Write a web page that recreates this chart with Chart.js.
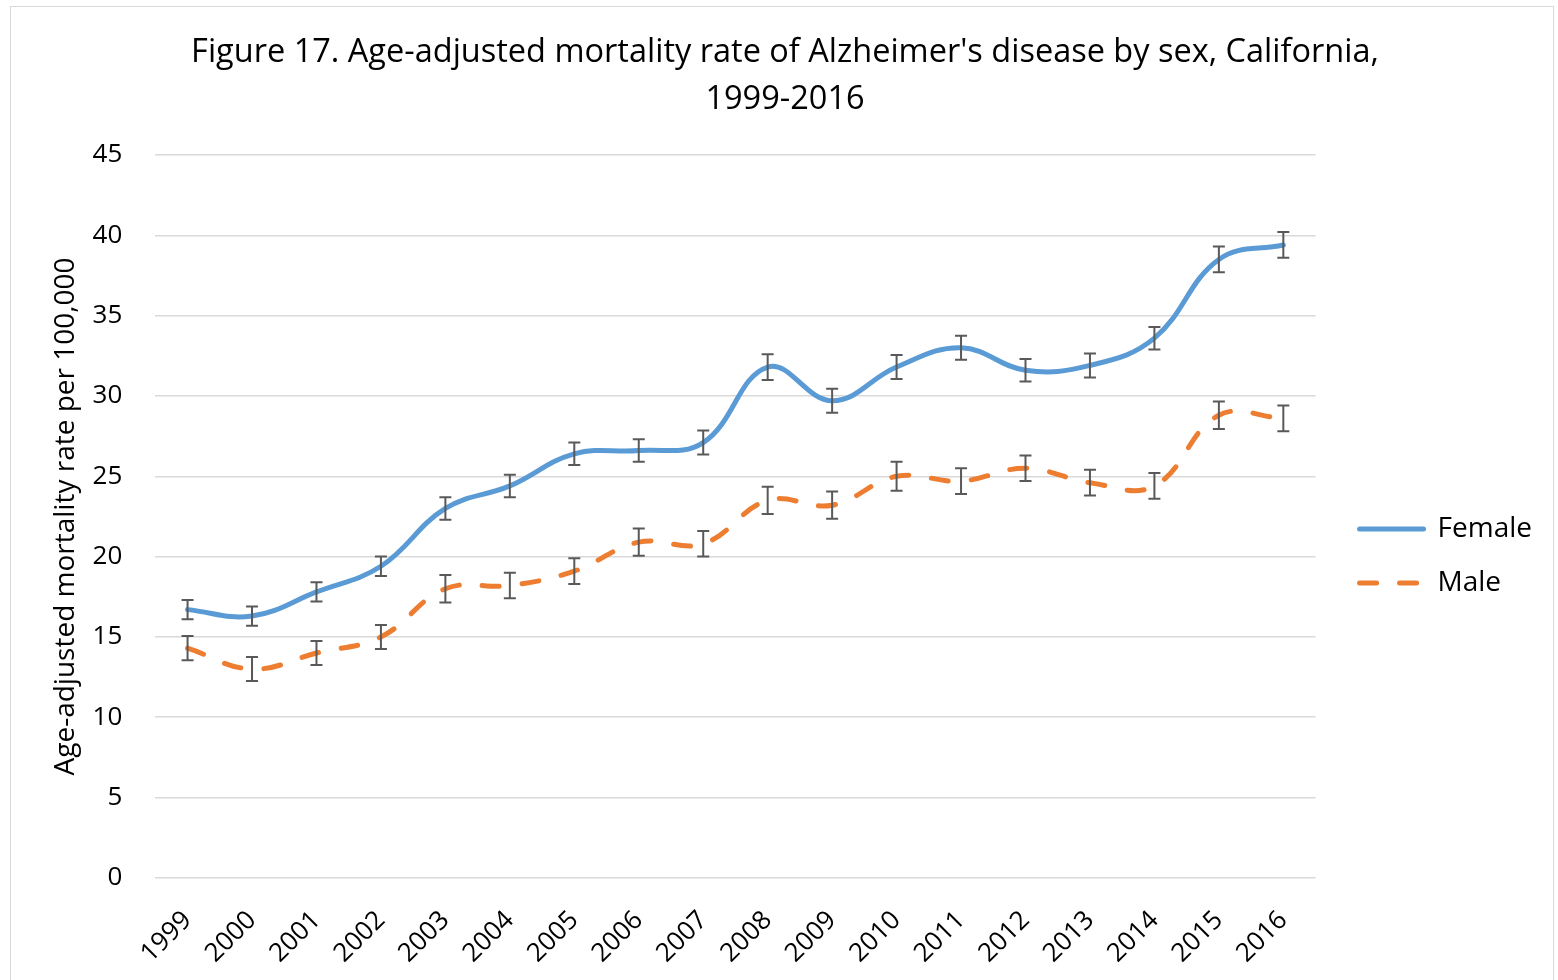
<!DOCTYPE html>
<html>
<head>
<meta charset="utf-8">
<title>Alzheimer's disease mortality by sex</title>
<script src="https://cdn.jsdelivr.net/npm/chart.js@4.4.0/dist/chart.umd.min.js"></script>
<style>
    body { margin: 0; background: #fff; }
    #frame { position: absolute; left: 10px; top: 6px; width: 1542px; height: 1000px; border: 1px solid #d9d9d9; }
    #wrap { position: absolute; left: 0; top: 0; width: 1558px; height: 980px; }
</style>
</head>
<body>
<div id="frame"></div>
<div id="wrap"><canvas id="lineChart"></canvas></div>
<script>
const titleLines = ["Figure 17. Age-adjusted mortality rate of Alzheimer's disease by sex, California,", "1999-2016"];
const yTitle = "Age-adjusted mortality rate per 100,000";
const years = ["1999", "2000", "2001", "2002", "2003", "2004", "2005", "2006", "2007",
    "2008", "2009", "2010", "2011", "2012", "2013", "2014", "2015", "2016"];
const female = [16.7, 16.3, 17.8, 19.4, 23.0, 24.4, 26.4, 26.6, 27.1, 31.8, 29.7, 31.8, 33.0, 31.6, 31.9, 33.6, 38.5, 39.4];
const femaleErr = [0.6, 0.6, 0.6, 0.6, 0.7, 0.7, 0.7, 0.7, 0.75, 0.8, 0.75, 0.75, 0.75, 0.7, 0.75, 0.7, 0.8, 0.8];
const male = [14.3, 13.0, 14.0, 15.0, 18.0, 18.2, 19.1, 20.9, 20.8, 23.5, 23.2, 25.0, 24.7, 25.5, 24.6, 24.4, 28.8, 28.6];
const maleErr = [0.75, 0.75, 0.75, 0.75, 0.85, 0.8, 0.8, 0.85, 0.8, 0.85, 0.85, 0.9, 0.8, 0.8, 0.8, 0.8, 0.85, 0.8];
const yMax = 45;
const yStep = 5;

const fontFamily = "'Open Sans', sans-serif";

// whiskers for the confidence intervals, drawn over the lines
const errorBars = {
    id: 'errorBars',
    afterDatasetsDraw(chart) {
        const ctx = chart.ctx;
        const yScale = chart.scales.y;
        ctx.save();
        ctx.strokeStyle = '#595959';
        ctx.lineWidth = 2;
        chart.data.datasets.forEach((ds, i) => {
            chart.getDatasetMeta(i).data.forEach((pt, j) => {
                const top = yScale.getPixelForValue(ds.data[j] + ds.errors[j]);
                const bottom = yScale.getPixelForValue(ds.data[j] - ds.errors[j]);
                ctx.beginPath();
                ctx.moveTo(pt.x, top);
                ctx.lineTo(pt.x, bottom);
                ctx.moveTo(pt.x - 6, top);
                ctx.lineTo(pt.x + 6, top);
                ctx.moveTo(pt.x - 6, bottom);
                ctx.lineTo(pt.x + 6, bottom);
                ctx.stroke();
            });
        });
        ctx.restore();
    }
};

// nudge the legend away from the plot and down to where Excel put it
const legendShift = {
    id: 'legendShift',
    afterLayout(chart) {
        chart.legend.left += 18;
        chart.legend.right += 18;
        chart.legend.top += 52;
        chart.legend.bottom += 52;
    }
};

new Chart(document.getElementById("lineChart"), {
    type: 'line',
    data: {
        labels: years,
        datasets: [
            {
                label: "Female",
                data: female,
                errors: femaleErr,
                borderColor: "#5b9bd5",
                borderWidth: 5,
                borderCapStyle: 'round',
                tension: 0.4,
                pointRadius: 0,
                fill: false
            },
            {
                label: "Male",
                data: male,
                errors: maleErr,
                borderColor: "#ed7d31",
                borderWidth: 5,
                borderDash: [17, 23],
                borderCapStyle: 'round',
                tension: 0.4,
                pointRadius: 0,
                fill: false
            }
        ]
    },
    options: {
        responsive: true,
        maintainAspectRatio: false,
        animation: false,
        layout: { padding: { left: 46, right: 34, top: 20, bottom: -8 } },
        plugins: {
            title: {
                display: true,
                text: titleLines,
                color: '#000',
                font: { family: fontFamily, size: 32.5, weight: 'normal', lineHeight: 47 / 32.5 },
                padding: { top: 9, bottom: 32 }
            },
            legend: {
                position: 'right',
                labels: {
                    usePointStyle: true,
                    pointStyleWidth: 64,
                    padding: 26,
                    color: '#000',
                    font: { family: fontFamily, size: 28 },
                    generateLabels(chart) {
                        return chart.data.datasets.map((ds, i) => ({
                            text: ds.label,
                            datasetIndex: i,
                            pointStyle: 'line',
                            strokeStyle: ds.borderColor,
                            fillStyle: ds.borderColor,
                            lineWidth: 5,
                            lineCap: 'round',
                            lineDash: ds.borderDash || [],
                            fontColor: '#000'
                        }));
                    }
                }
            },
            tooltip: { enabled: false }
        },
        scales: {
            x: {
                offset: true,
                grid: { display: false },
                border: { display: false },
                ticks: {
                    autoSkip: false,
                    minRotation: 45,
                    maxRotation: 45,
                    padding: 19,
                    color: '#000',
                    font: { family: fontFamily, size: 26 }
                }
            },
            y: {
                min: 0,
                max: yMax,
                ticks: {
                    stepSize: yStep,
                    padding: 33,
                    color: '#000',
                    font: { family: fontFamily, size: 26 }
                },
                grid: { color: '#d9d9d9', lineWidth: 1.5, drawTicks: false },
                border: { display: false },
                title: {
                    display: true,
                    text: yTitle,
                    color: '#000',
                    font: { family: fontFamily, size: 28 },
                    padding: { top: 3, bottom: -23 }
                }
            }
        }
    },
    plugins: [errorBars, legendShift]
});
</script>
</body>
</html>
